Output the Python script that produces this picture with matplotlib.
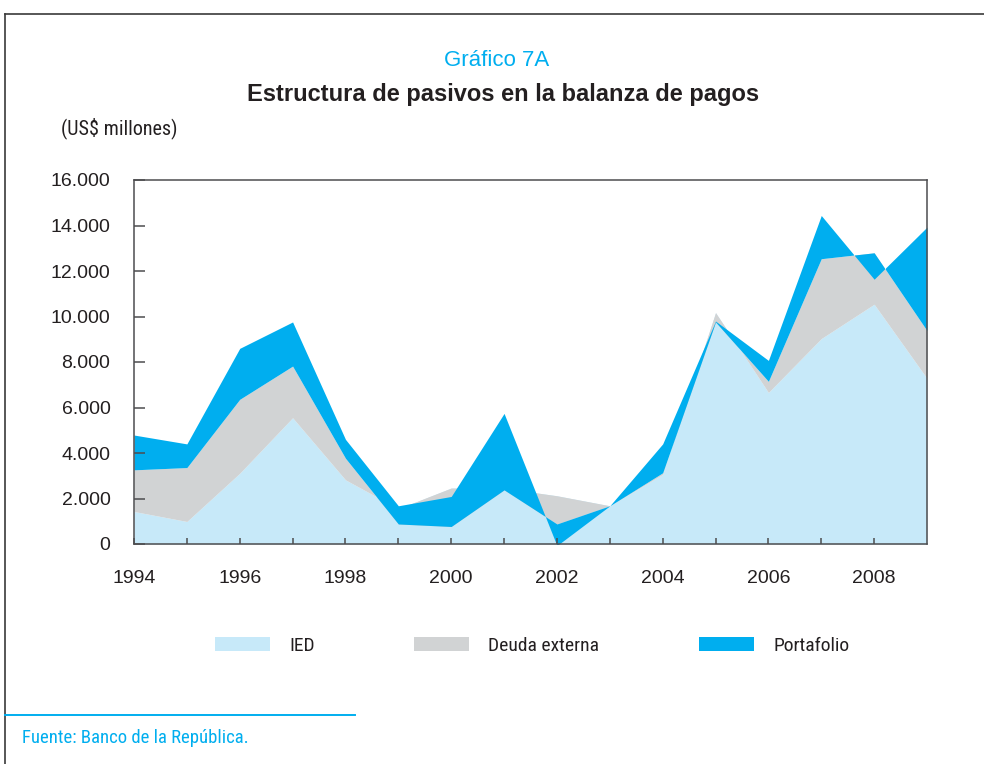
import matplotlib
matplotlib.use("Agg")
from matplotlib import pyplot as plt
from matplotlib.lines import Line2D
from matplotlib.ticker import FuncFormatter
import numpy as np

# Datos (US$ millones)
years = np.arange(1994, 2010)
ied = [1430, 990, 3110, 5550, 2820, 1550, 2460, 2450, 2120, 1680, 3060, 10170, 6660, 9030, 10540, 7280]
deuda = [1830, 2370, 3250, 2270, 950, -670, -1690, -70, -1240, 0, 70, -410, 490, 3510, 2260, 2100]
portafolio = [1530, 1040, 2240, 1940, 830, 800, 1320, 3360, -950, 0, 1270, 40, 920, 1900, -1160, 4550]

names = ['IED', 'Deuda externa', 'Portafolio']
colors = ['#C7E9F9', '#D1D3D4', '#00AEEF']

dark = '#231F20'
cyan = '#00AEEF'
narrow = ['Roboto Condensed', 'Liberation Sans', 'DejaVu Sans']
plt.rcParams['font.family'] = ['Liberation Sans', 'DejaVu Sans']

W, H = 984, 764
fig = plt.figure(figsize=(W / 100, H / 100), dpi=100)
ax = fig.add_axes([134 / W, 1 - 544 / H, (927 - 134) / W, (544 - 180) / H])

#   cumulative levels, stacked like the original spreadsheet chart
c1 = np.array(ied, dtype=float)
c2 = c1 + np.array(deuda)
c3 = c2 + np.array(portafolio)

h1 = ax.fill_between(years, 0, c1, color=colors[0], lw=0, label=names[0])
h2 = ax.fill_between(years, c1, c2, color=colors[1], lw=0, label=names[1])
h3 = ax.fill_between(years, c2, c3, color=colors[2], lw=0, label=names[2])

ax.set_xlim(1994, 2009)
ax.set_ylim(0, 16000)
ax.set_yticks(np.arange(0, 16001, 2000))
ax.yaxis.set_major_formatter(FuncFormatter(lambda v, p: f'{int(v):,}'.replace(',', '.')))
ax.set_xticks(years[:-1])
ax.set_xticklabels([str(y) if y % 2 == 0 else '' for y in years[:-1]])

for s in ax.spines.values():
    s.set_color('#4D4D4F')
    s.set_linewidth(1.1)
ax.tick_params(axis='y', direction='in', length=8, width=1.1, pad=17,
               labelsize=14, color='#4D4D4F', labelcolor=dark)
ax.tick_params(axis='x', direction='in', length=4.5, width=1.1, pad=19,
               labelsize=14, color='#4D4D4F', labelcolor=dark)

# Titles
fig.text(497 / W, 1 - 60 / H, 'Gráfico 7A', color=cyan, fontsize=16, ha='center', va='center')
fig.text(503 / W, 1 - 95 / H, 'Estructura de pasivos en la balanza de pagos', color=dark,
         fontsize=17, fontweight='bold', ha='center', va='center')
fig.text(61 / W, 1 - 128 / H, r'(US\$ millones)', color=dark, fontsize=14.5,
         family=narrow, ha='left', va='center')

# Legend
fig.legend([h1, h2, h3], names, loc='center', bbox_to_anchor=(532 / W, 1 - 646 / H), ncol=3,
           frameon=False, handlelength=2.83, handleheight=0.72, handletextpad=1.0,
           columnspacing=5.1, prop={'family': narrow, 'size': 14}, labelcolor=dark)

# frame and source
fig.add_artist(Line2D([5 / W, 1], [1 - 14 / H] * 2, transform=fig.transFigure, color='#3A3A3A', lw=1.2))
fig.add_artist(Line2D([5 / W] * 2, [0, 1 - 14 / H], transform=fig.transFigure, color='#3A3A3A', lw=1.2))
fig.add_artist(Line2D([5 / W, 355 / W], [1 - 715 / H] * 2, transform=fig.transFigure, color=cyan, lw=1.4))
fig.text(22 / W, 1 - 738 / H, 'Fuente: Banco de la República.', color=cyan, fontsize=13.5,
         family=narrow, ha='left', va='center')

fig.savefig('out.png', dpi=100)
